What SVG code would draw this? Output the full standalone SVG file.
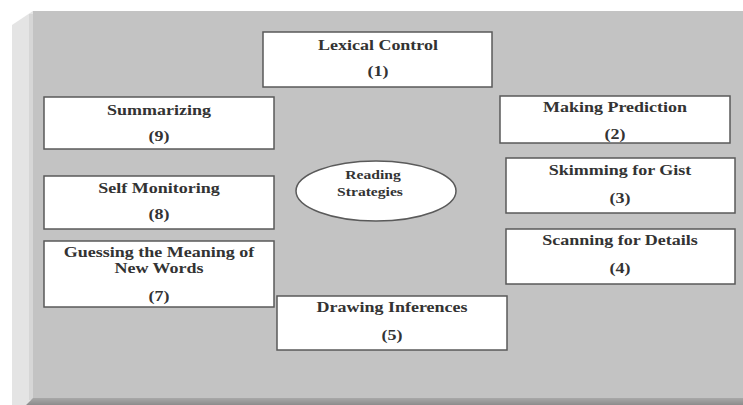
<svg xmlns="http://www.w3.org/2000/svg" width="743" height="405" viewBox="0 0 743 405">
<defs>
<style>
.box{fill:#ffffff;stroke:#5a5a5a;stroke-width:1.5}
.t{font-family:"Liberation Serif","Times New Roman",serif;font-weight:bold;font-size:15px;fill:#333333;text-anchor:middle}
.s{font-size:13px}
</style>
<linearGradient id="bot" x1="0" y1="0" x2="0" y2="1">
<stop offset="0" stop-color="#a8a8a8"/>
<stop offset="1" stop-color="#8c8c8c"/>
</linearGradient>
</defs>
<rect x="0" y="0" width="743" height="405" fill="#ffffff"/>
<g id="panel">
<polygon points="12,25 33,11 33,398 26,405 12,405" fill="#e4e4e4"/>
<rect x="29" y="14" width="4" height="386" fill="#d6d6d6"/>
<rect x="33" y="11" width="710" height="388" fill="#c3c3c3"/>
<polygon points="33,398 743,398 743,405 26,405" fill="url(#bot)"/>
</g>
<g id="connectors"></g>
<g id="n1"><rect class="box" x="263" y="32" width="229" height="55"/>
<text class="t" transform="translate(378 50) scale(1.2 1)">Lexical Control</text>
<text class="t" transform="translate(378 76) scale(1.2 1)">(1)</text></g>
<g id="n2"><rect class="box" x="500" y="96" width="230" height="47"/>
<text class="t" transform="translate(615 112) scale(1.2 1)">Making Prediction</text>
<text class="t" transform="translate(615 139) scale(1.2 1)">(2)</text></g>
<g id="n3"><rect class="box" x="506" y="158" width="229" height="55"/>
<text class="t" transform="translate(620 175) scale(1.2 1)">Skimming for Gist</text>
<text class="t" transform="translate(620 203) scale(1.2 1)">(3)</text></g>
<g id="n4"><rect class="box" x="506" y="229" width="229" height="55"/>
<text class="t" transform="translate(620 245) scale(1.2 1)">Scanning for Details</text>
<text class="t" transform="translate(620 273) scale(1.2 1)">(4)</text></g>
<g id="n5"><rect class="box" x="277" y="296" width="230" height="54"/>
<text class="t" transform="translate(392 312) scale(1.2 1)">Drawing Inferences</text>
<text class="t" transform="translate(392 340) scale(1.2 1)">(5)</text></g>
<g id="n7"><rect class="box" x="44" y="241" width="230" height="66"/>
<text class="t" transform="translate(159 257) scale(1.2 1)">Guessing the Meaning of</text>
<text class="t" transform="translate(159 273) scale(1.2 1)">New Words</text>
<text class="t" transform="translate(159 301) scale(1.2 1)">(7)</text></g>
<g id="n8"><rect class="box" x="44" y="176" width="230" height="53"/>
<text class="t" transform="translate(159 193) scale(1.2 1)">Self Monitoring</text>
<text class="t" transform="translate(159 219) scale(1.2 1)">(8)</text></g>
<g id="n9"><rect class="box" x="44" y="97" width="230" height="52"/>
<text class="t" transform="translate(159 115) scale(1.2 1)">Summarizing</text>
<text class="t" transform="translate(159 141) scale(1.2 1)">(9)</text></g>
<g id="center"><ellipse class="box" cx="376" cy="191" rx="80" ry="30"/>
<text class="t s" transform="translate(373 179) scale(1.2 1)">Reading</text>
<text class="t s" transform="translate(370 196) scale(1.2 1)">Strategies</text></g>
</svg>
